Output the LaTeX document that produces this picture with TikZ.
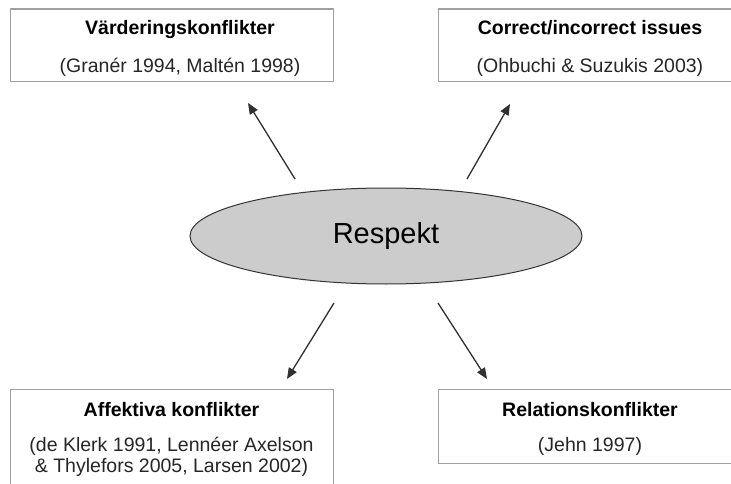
\documentclass[tikz,border=0pt]{standalone}
\usepackage{fontspec}
\setmainfont{Liberation Sans}
\usetikzlibrary{arrows.meta,shapes.geometric}
\definecolor{boxline}{HTML}{A0A0A0}
\definecolor{ellfill}{HTML}{CCCCCC}
\definecolor{arrowcol}{HTML}{303030}
\begin{document}
\begin{tikzpicture}[x=1pt,y=-1pt,
  framebox/.style={draw=boxline, line width=1.3pt, fill=white, rectangle, inner sep=0pt, anchor=north west},
  titletext/.style={anchor=base, inner sep=0pt, font=\fontsize{19.5}{21}\selectfont\bfseries},
  subtext/.style={anchor=base, inner sep=0pt, font=\fontsize{19.5}{21}\selectfont, color=black!85, align=center},
  arrowline/.style={draw=arrowcol, line width=1.3pt, -{Triangle[length=11pt,width=9pt]}}
]
\useasboundingbox (0,0) rectangle (731,484);
\clip (0,0) rectangle (731,484);
\fill[white] (0,0) rectangle (731,484);

% boxes
\node[framebox, minimum width=323pt, minimum height=72.5pt] (b1) at (10,8.5) {};
\node[framebox, minimum width=324pt, minimum height=72.5pt] (b2) at (438,8.5) {};
\node[framebox, minimum width=323pt, minimum height=120pt] (b3) at (10,389) {};
\node[framebox, minimum width=324pt, minimum height=74pt] (b4) at (438,389) {};

% texts
\node[titletext] (t1) at (180,35) {Värderingskonflikter};
\node[subtext] (s1) at (180,73) {(Granér 1994, Maltén 1998)};
\node[titletext] (t2) at (590,35) {Correct/incorrect issues};
\node[subtext] (s2) at (590,73) {(Ohbuchi \& Suzukis 2003)};
\node[titletext] (t3) at (171.5,416) {Affektiva konflikter};
\node[subtext] (s3a) at (171.5,451) {(de Klerk 1991, Lennéer Axelson};
\node[subtext] (s3b) at (171.5,472) {\& Thylefors 2005, Larsen 2002)};
\node[titletext] (t4) at (590,416) {Relationskonflikter};
\node[subtext] (s4) at (590,451) {(Jehn 1997)};

% ellipse
\node[ellipse, draw=black!80, line width=1pt, fill=ellfill, minimum width=392pt, minimum height=96pt, inner sep=0pt,
  font=\fontsize{29}{30}\selectfont] (r) at (386,236) {Respekt};

% arrow ends
\coordinate (a1s) at (295,179); \coordinate (a1e) at (248,103);
\coordinate (a2s) at (467,179); \coordinate (a2e) at (510,104);
\coordinate (a3s) at (334,303); \coordinate (a3e) at (287,379);
\coordinate (a4s) at (438,303); \coordinate (a4e) at (487,379);

\draw[arrowline] (a1s) -- (a1e);
\draw[arrowline] (a2s) -- (a2e);
\draw[arrowline] (a3s) -- (a3e);
\draw[arrowline] (a4s) -- (a4e);
\end{tikzpicture}
\end{document}
